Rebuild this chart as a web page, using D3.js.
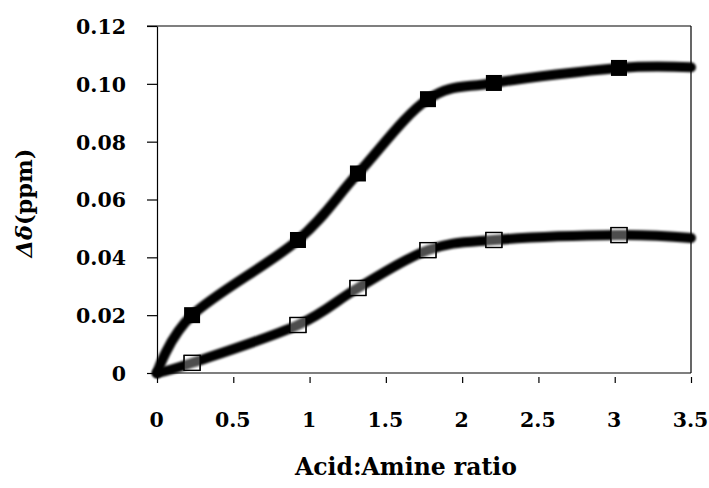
<!DOCTYPE html>
<html>
<head>
  <script src="https://d3js.org/d3.v7.min.js"></script>
  <style>
    body { margin: 0; background: #fff; }
    text { font-family: "DejaVu Serif", serif; font-weight: bold; fill: #000; }
  </style>
</head>
<body>
<div id="chart"></div>
<script>
const width = 709;
const height = 488;

// data
const ratio   = [0, 0.23, 0.924, 1.317, 1.776, 2.208, 3.028, 3.5];
const deltaA  = [0, 0.020, 0.046, 0.069, 0.0947, 0.1003, 0.1055, 0.1057];  // filled squares
const deltaB  = [0, 0.0035, 0.0166, 0.0294, 0.0425, 0.046, 0.0477, 0.0467]; // open squares
const markerIdx = [1, 2, 3, 4, 5, 6];
const xTicks = [0, 0.5, 1, 1.5, 2, 2.5, 3, 3.5];
const xTickLabels = ["0", "0.5", "1", "1.5", "2", "2.5", "3", "3.5"];
const yTicks = [0, 0.02, 0.04, 0.06, 0.08, 0.10, 0.12];
const yTickLabels = ["0", "0.02", "0.04", "0.06", "0.08", "0.10", "0.12"];

const svg = d3.select("#chart").append("svg")
  .attr("width", width)
  .attr("height", height);

const defs = svg.append("defs");
defs.append("filter").attr("id", "soft")
  .attr("x", "-5%").attr("y", "-20%").attr("width", "110%").attr("height", "140%")
  .append("feGaussianBlur").attr("stdDeviation", 0.9);

const x = d3.scaleLinear().domain([0, 3.5]).range([157, 691]);
const y = d3.scaleLinear().domain([0, 0.12]).range([373, 26]);

// frame
svg.append("line").attr("x1", 147).attr("x2", 691).attr("y1", y(0.12)).attr("y2", y(0.12))
  .attr("stroke", "#000").attr("stroke-width", 1.2);
svg.append("line").attr("x1", x(3.5)).attr("x2", x(3.5)).attr("y1", y(0.12)).attr("y2", y(0))
  .attr("stroke", "#000").attr("stroke-width", 1.2);
svg.append("line").attr("x1", x(0)).attr("x2", x(3.5)).attr("y1", y(0)).attr("y2", y(0))
  .attr("stroke", "#000").attr("stroke-width", 1.2);

// y axis
const yAxis = svg.append("g")
  .attr("transform", `translate(${x(0)},0)`)
  .call(d3.axisLeft(y).tickValues(yTicks)
    .tickFormat((d, i) => yTickLabels[i])
    .tickSize(10).tickSizeOuter(0).tickPadding(21));
yAxis.select(".domain").attr("stroke-width", 1.2);
yAxis.selectAll(".tick line").attr("stroke-width", 1.2);
yAxis.selectAll("text").attr("font-size", 20.5)
  .attr("font-family", "DejaVu Serif").attr("font-weight", "bold").attr("dy", "0.36em");

// x axis (ticks sit a little below the axis line)
const xAxis = svg.append("g")
  .attr("transform", `translate(0,${y(0) + 4})`)
  .call(d3.axisBottom(x).tickValues(xTicks)
    .tickFormat((d, i) => xTickLabels[i])
    .tickSize(6).tickPadding(29));
xAxis.select(".domain").remove();
xAxis.selectAll(".tick line").attr("stroke-width", 1.2);
xAxis.selectAll("text").attr("font-size", 20.5)
  .attr("font-family", "DejaVu Serif").attr("font-weight", "bold")
  .attr("dx", -1);

// curves
const line = d3.line()
  .x(d => x(d[0]))
  .y(d => y(d[1]))
  .curve(d3.curveCardinal.tension(0));

const seriesA = ratio.map((r, i) => [r, deltaA[i]]);
const seriesB = ratio.map((r, i) => [r, deltaB[i]]);

// open markers sit under their line
const ms = 16;
svg.append("g").selectAll("rect")
  .data(markerIdx.map(i => seriesB[i]))
  .join("rect")
  .attr("x", d => x(d[0]) - ms / 2)
  .attr("y", d => y(d[1]) - 7.5)
  .attr("width", ms).attr("height", 15)
  .attr("fill", "#fff")
  .attr("stroke", "#000").attr("stroke-width", 1.3);

svg.append("path").datum(seriesB)
  .attr("d", line).attr("fill", "none").attr("stroke", "#000")
  .attr("stroke-width", 10).attr("stroke-linecap", "round").attr("stroke-linejoin", "round")
  .attr("filter", "url(#soft)");
svg.append("path").datum(seriesA)
  .attr("d", line).attr("fill", "none").attr("stroke", "#000")
  .attr("stroke-width", 10).attr("stroke-linecap", "round").attr("stroke-linejoin", "round")
  .attr("filter", "url(#soft)");

// open marker outlines redrawn faintly on top
svg.append("g").selectAll("rect")
  .data(markerIdx.map(i => seriesB[i]))
  .join("rect")
  .attr("x", d => x(d[0]) - ms / 2)
  .attr("y", d => y(d[1]) - 7.5)
  .attr("width", ms).attr("height", 15)
  .attr("fill", "#fff").attr("fill-opacity", 0.3)
  .attr("stroke", "#000").attr("stroke-width", 1.2);

svg.append("g").selectAll("rect")
  .data(markerIdx.map(i => seriesA[i]))
  .join("rect")
  .attr("x", d => x(d[0]) - ms / 2)
  .attr("y", d => y(d[1]) - ms / 2)
  .attr("width", ms).attr("height", ms)
  .attr("fill", "#000");

// axis titles
svg.append("text")
  .attr("x", 406).attr("y", 475)
  .attr("text-anchor", "middle")
  .attr("font-size", 23.5)
  .text("Acid:Amine ratio");

const yt = svg.append("text")
  .attr("transform", "translate(32,203) rotate(-90)")
  .attr("text-anchor", "middle")
  .attr("font-size", 22.5);
yt.append("tspan").attr("font-style", "italic").text("Δδ");
yt.append("tspan").text("(ppm)");
</script>
</body>
</html>
